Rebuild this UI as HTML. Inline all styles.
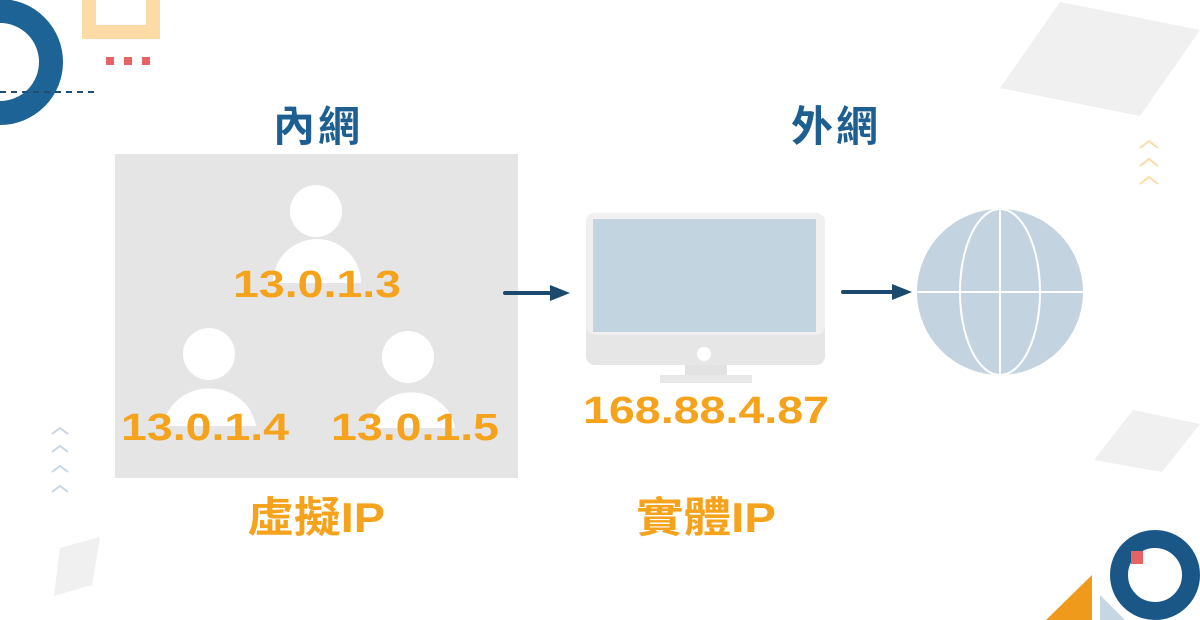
<!DOCTYPE html>
<html><head><meta charset="utf-8"><style>
html,body{margin:0;padding:0;background:#fff;}
svg{display:block;}
text{font-family:"Liberation Sans","Noto Sans CJK TC",sans-serif;font-weight:bold;}
</style></head><body>
<svg width="1200" height="620" viewBox="0 0 1200 620" xmlns="http://www.w3.org/2000/svg">
<rect width="1200" height="620" fill="#fff"/>
<circle cx="0" cy="62" r="51" fill="none" stroke="#1e6396" stroke-width="24"/>
<rect x="89" y="-10" width="64" height="42" fill="none" stroke="#fcdba6" stroke-width="14"/>
<rect x="106" y="57" width="8" height="8" fill="#e76363"/>
<rect x="124" y="57" width="8" height="8" fill="#e76363"/>
<rect x="142" y="57" width="8" height="8" fill="#e76363"/>
<line x1="0" y1="92" x2="96" y2="92" stroke="#1e4f73" stroke-width="2" stroke-dasharray="6,5"/>
<polygon points="1060,2 1200,30 1140,116 1000,88" fill="#f0f0f0"/>
<g fill="none" stroke="#fcdba6" stroke-width="2">
<polyline points="1140,148 1149,141 1158,148"/>
<polyline points="1140,166 1149,159 1158,166"/>
<polyline points="1140,184 1149,177 1158,184"/>
</g>
<g fill="none" stroke="#c8d7e4" stroke-width="2">
<polyline points="52,434 60,428 68,434"/>
<polyline points="52,452 60,446 68,452"/>
<polyline points="52,472 60,466 68,472"/>
<polyline points="52,492 60,486 68,492"/>
</g>
<polygon points="60,548 100,537 92,585 54,596" fill="#f0f0f0"/>
<polygon points="1133,410 1200,424 1162,472 1094,460" fill="#f0f0f0"/>
<polygon points="1092,575 1092,620 1046,620" fill="#f09a1b"/>
<polygon points="1100,595 1125,620 1100,620" fill="#c6d6e3"/>
<circle cx="1155" cy="575" r="36" fill="none" stroke="#1b5786" stroke-width="18"/>
<rect x="1131" y="551" width="12" height="13" fill="#e76363"/>
<text x="318" y="141" font-size="42" fill="#1e5f91" text-anchor="middle" letter-spacing="3">內網</text>
<text x="836" y="141" font-size="42" fill="#1e5f91" text-anchor="middle" letter-spacing="3">外網</text>
<rect x="115" y="154" width="403" height="324" fill="#e5e5e5"/>
<g fill="#fff">
<circle cx="316" cy="211" r="26"/>
<path d="M273,283 A44,44 0 0 1 361,283 Z"/>
<circle cx="209" cy="354" r="26"/>
<path d="M163,426 A47,44 0 0 1 256,426 Z"/>
<circle cx="408" cy="357" r="26"/>
<path d="M368,428 A44,42 0 0 1 455,428 Z"/>
</g>
<g font-size="38" fill="#f5a31d">
<text x="233" y="297" textLength="168" lengthAdjust="spacingAndGlyphs">13.0.1.3</text>
<text x="121" y="440" textLength="168" lengthAdjust="spacingAndGlyphs">13.0.1.4</text>
<text x="331" y="440" textLength="168" lengthAdjust="spacingAndGlyphs">13.0.1.5</text>
<text x="583" y="423" textLength="246" lengthAdjust="spacingAndGlyphs">168.88.4.87</text>
</g>
<text x="247" y="532" font-size="42" fill="#f5a31d" textLength="138" lengthAdjust="spacingAndGlyphs">虛擬IP</text>
<text x="636" y="532" font-size="42" fill="#f5a31d" textLength="140" lengthAdjust="spacingAndGlyphs">實體IP</text>
<line x1="505" y1="293" x2="552" y2="293" stroke="#1b4a6e" stroke-width="4" stroke-linecap="round"/>
<polygon points="550,285 570,293 550,301" fill="#1b4a6e"/>
<line x1="843" y1="292" x2="895" y2="292" stroke="#1b4a6e" stroke-width="4" stroke-linecap="round"/>
<polygon points="892,284 912,292 892,300" fill="#1b4a6e"/>
<rect x="685" y="362" width="42" height="14" fill="#e2e2e2"/>
<rect x="660" y="375" width="92" height="8" fill="#e8e8e8"/>
<rect x="586" y="213" width="239" height="152" rx="9" fill="#e6e6e6"/>
<rect x="586" y="213" width="239" height="122" rx="9" fill="#f0f0f0"/>
<rect x="593" y="219" width="223" height="113" fill="#c3d4e1"/>
<circle cx="704" cy="354" r="7" fill="#fff"/>
<circle cx="1000" cy="292" r="83" fill="#c3d3e0"/>
<g fill="none" stroke="#fff" stroke-width="2">
<ellipse cx="1000" cy="292" rx="40" ry="83"/>
<line x1="1000" y1="209" x2="1000" y2="375"/>
<line x1="917" y1="292" x2="1083" y2="292"/>
</g>
</svg>
</body></html>
